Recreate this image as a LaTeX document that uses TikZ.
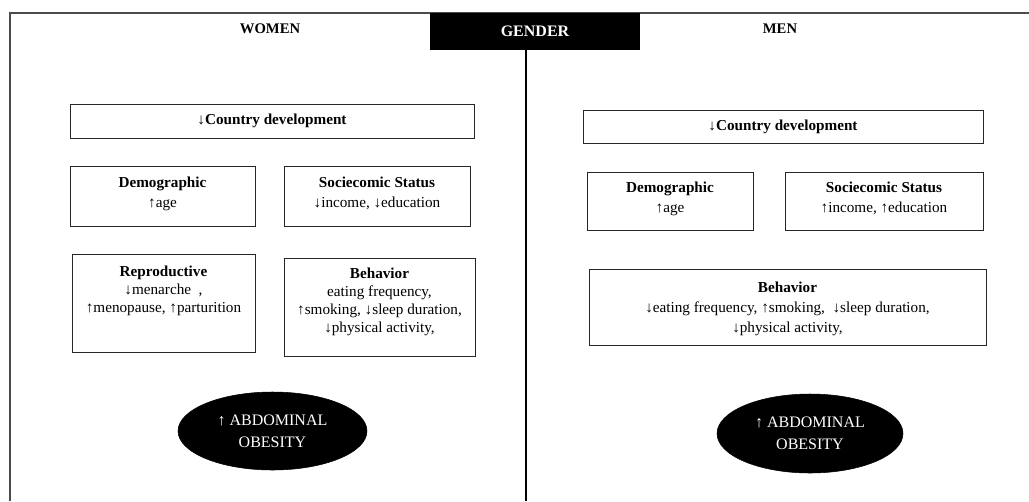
\documentclass[tikz,border=0pt]{standalone}
\usepackage{fontspec}
\setmainfont{Liberation Serif}
\usetikzlibrary{shapes.geometric}
\def\px{0.75pt}
\begin{document}
\begin{tikzpicture}[x=0.75pt,y=-0.75pt,
  frameline/.style={draw=black!70, line width=1.3pt},
  factorbox/.style={draw=black!85, line width=0.65pt, rectangle, inner sep=0pt},
  factortext/.style={align=center, font=\fontsize{11.4}{13.5}\selectfont, inner sep=0pt},
  header/.style={font=\fontsize{11}{13}\selectfont\bfseries, inner sep=0pt},
  outcome/.style={ellipse, fill=black, draw=black, inner sep=0pt,
    text=white, align=center, font=\fontsize{12}{16.5}\selectfont}]
\useasboundingbox (0,0) rectangle (1029,501);

% outer frame and the divider between the two halves
\coordinate (tl) at (10,13);
\coordinate (tr) at (1029,13);
\coordinate (bl) at (10,501);
\coordinate (midtop) at (526,50);
\coordinate (midbot) at (526,501);
\draw[frameline] (bl) -- (tl) -- (tr);
\draw[line width=1.1pt] (midtop) -- (midbot);

% title tab
\node[fill=black, minimum width=210*\px, minimum height=37*\px, inner sep=0pt,
      text=white, font=\fontsize{12}{14}\selectfont\bfseries] (gender) at (535,31.5) {GENDER};

\node[header] (women) at (270,29) {WOMEN};
\node[header] (men) at (780,29) {MEN};

% ---------- women ----------
\node[factorbox, minimum width=404*\px, minimum height=34*\px] (wcountry) at (272,121) {};
\node[factortext] (wcountryT) at (wcountry) {\textbf{↓Country development}};

\node[factorbox, minimum width=185*\px, minimum height=60*\px] (wdemo) at (162.5,196) {};
\node[factortext, font=\fontsize{11.4}{15}\selectfont] (wdemoT) at (162.5,193.5) {\textbf{Demographic}\\↑age};

\node[factorbox, minimum width=186*\px, minimum height=60*\px] (wses) at (377,196) {};
\node[factortext, font=\fontsize{11.4}{15}\selectfont] (wsesT) at (377,193.5) {\textbf{Sociecomic Status}\\↓income, ↓education};

\node[factorbox, minimum width=183*\px, minimum height=98*\px] (wrep) at (163.5,303) {};
\node[factortext, anchor=north] (wrepT) at (163.5,265.5) {\textbf{Reproductive}\\↓menarche~~,\\↑menopause, ↑parturition};

\node[factorbox, minimum width=191*\px, minimum height=98*\px] (wbeh) at (379.5,307) {};
\node[factortext, anchor=north] (wbehT) at (379.5,268) {\textbf{Behavior}\\eating frequency,\\↑smoking, ↓sleep duration,\\↓physical activity,};

\node[outcome, minimum width=189*\px, minimum height=78*\px] (wobes) at (272.5,431) {↑ ABDOMINAL\\OBESITY};

% ---------- men ----------
\node[factorbox, minimum width=400*\px, minimum height=33*\px] (mcountry) at (783,126.5) {};
\node[factortext] (mcountryT) at (mcountry) {\textbf{↓Country development}};

\node[factorbox, minimum width=166*\px, minimum height=58*\px] (mdemo) at (670,201) {};
\node[factortext, font=\fontsize{11.4}{15}\selectfont] (mdemoT) at (670,198.5) {\textbf{Demographic}\\↑age};

\node[factorbox, minimum width=198*\px, minimum height=58*\px] (mses) at (884,201) {};
\node[factortext, font=\fontsize{11.4}{15}\selectfont] (msesT) at (884,198.5) {\textbf{Sociecomic Status}\\↑income, ↑education};

\node[factorbox, minimum width=397*\px, minimum height=76*\px] (mbeh) at (787.5,307) {};
\node[factortext, anchor=north, font=\fontsize{11.4}{15}\selectfont] (mbehT) at (787.5,281.5) {\textbf{Behavior}\\↓eating frequency, ↑smoking, ~↓sleep duration,\\↓physical activity,};

\node[outcome, minimum width=186*\px, minimum height=79*\px] (mobes) at (810,433.5) {↑ ABDOMINAL\\OBESITY};
\end{tikzpicture}
\end{document}
